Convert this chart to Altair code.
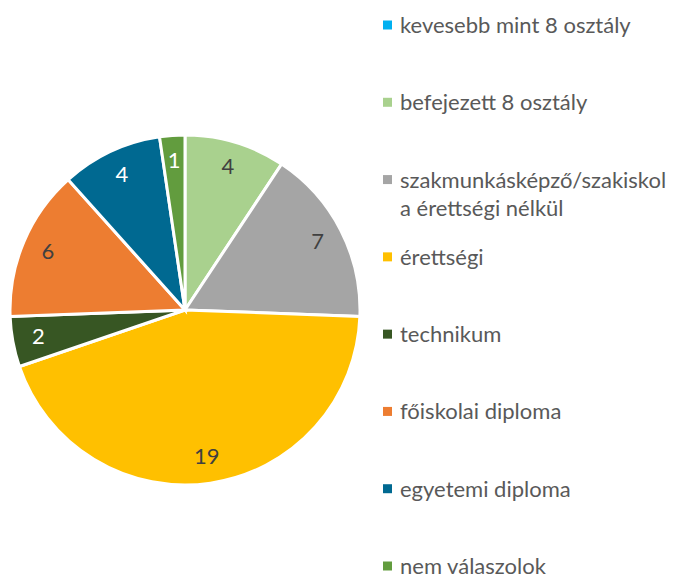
import altair as alt
import pandas as pd

categories = [
    "kevesebb mint 8 osztály",
    "befejezett 8 osztály",
    "szakmunkásképző/szakiskola érettségi nélkül",
    "érettségi",
    "technikum",
    "főiskolai diploma",
    "egyetemi diploma",
    "nem válaszolok",
]
legend_labels = [
    "kevesebb mint 8 osztály",
    "befejezett 8 osztály",
    "szakmunkásképző/szakiskol\na érettségi nélkül",
    "érettségi",
    "technikum",
    "főiskolai diploma",
    "egyetemi diploma",
    "nem válaszolok",
]
values = [0, 4, 7, 19, 2, 6, 4, 1]
colors = ["#00B0F0", "#A9D18E", "#A5A5A5", "#FFC000", "#375623", "#ED7D31", "#006991", "#629C3E"]
dark_slices = ["technikum", "egyetemi diploma", "nem válaszolok"]

df = pd.DataFrame({
    "cat": categories,
    "label": legend_labels,
    "value": values,
    "idx": list(range(len(categories))),
})

color_scale = alt.Scale(domain=categories, range=colors)
FONT = "Lato"

base = alt.Chart(df)

pie = base.mark_arc(radius=175, stroke="white", strokeWidth=3).encode(
    theta=alt.Theta("value:Q", stack=True),
    order=alt.Order("idx:Q"),
    color=alt.Color("cat:N", scale=color_scale, legend=None),
    x=alt.value(177),
    y=alt.value(302),
)

labels = base.transform_filter("datum.value > 0").mark_text(
    radius=149, fontSize=22, font=FONT
).encode(
    theta=alt.Theta("value:Q", stack=True),
    order=alt.Order("idx:Q"),
    text=alt.Text("value:Q"),
    color=alt.condition(
        "indexof(" + str(dark_slices) + ", datum.cat) >= 0",
        alt.value("white"),
        alt.value("#404040"),
    ),
    x=alt.value(177),
    y=alt.value(302),
)

yscale = alt.Scale(type="point", domain=categories, range=[17, 558], padding=0)

leg_sq = base.mark_square(size=81, opacity=1).encode(
    y=alt.Y("cat:N", scale=yscale, axis=None),
    x=alt.value(379.5),
    color=alt.Color("cat:N", scale=color_scale, legend=None),
)

leg_txt = base.mark_text(
    align="left", baseline="alphabetic", dy=8, fontSize=22, font=FONT,
    color="#595959", lineBreak="\n", lineHeight=28,
).encode(
    y=alt.Y("cat:N", scale=yscale, axis=None),
    x=alt.value(392),
    text="label:N",
)

chart = alt.layer(pie, labels, leg_sq, leg_txt).properties(
    width=658, height=568, padding=0, autosize="none"
).configure_view(strokeWidth=0)

chart.save("out.html", embed_options={"renderer": "svg", "actions": False})
